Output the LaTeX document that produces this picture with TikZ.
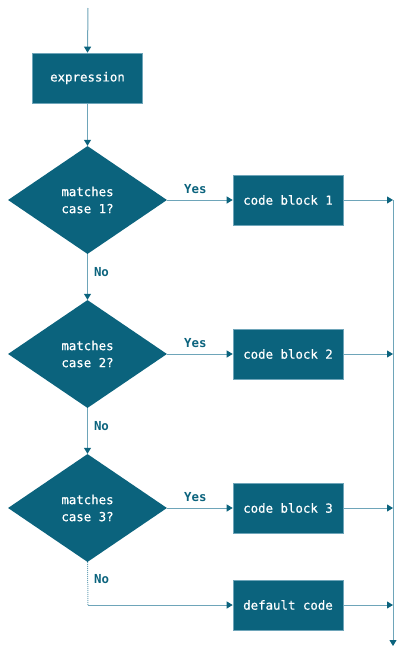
\documentclass[tikz,border=0pt]{standalone}
\usepackage{fontspec}
\setmonofont{DejaVu Sans Mono}
\newfontfamily\boxmono[FakeBold=0.5]{DejaVu Sans Mono}
\usetikzlibrary{shapes.geometric,arrows.meta}
\definecolor{tealdark}{RGB}{11,99,125}
\definecolor{teallight}{RGB}{110,165,185}
\tikzset{
  x=1pt,y=-1pt,
  boxnode/.style={rectangle,fill=tealdark,draw=teallight,line width=0.6pt,minimum width=110pt,minimum height=50pt,inner sep=0pt,text=white,font=\boxmono\fontsize{12.4}{14}\selectfont},
  decnode/.style={diamond,fill=tealdark,draw=none,minimum width=159pt,minimum height=108pt,inner sep=0pt,aspect=1.47,text=white,align=center,font=\boxmono\fontsize{12.4}{17}\selectfont},
  conn/.style={draw=teallight,line width=1pt,-{Triangle[length=6pt,width=7pt,color=tealdark]}},
  lbl/.style={text=tealdark,font=\ttfamily\bfseries\fontsize{12.4}{14}\selectfont,inner sep=0pt}
}
\begin{document}
\begin{tikzpicture}
\useasboundingbox (0,0) rectangle (400,653);
\coordinate (start) at (88,8);
\node[boxnode] (expr) at (87.5,78) {expression};
\node[decnode] (d1) at (87.5,200) {matches\\case 1?};
\node[decnode] (d2) at (87.5,354) {matches\\case 2?};
\node[decnode] (d3) at (87.5,508) {matches\\case 3?};
\node[boxnode] (c1) at (288,200) {code block 1};
\node[boxnode] (c2) at (288,354) {code block 2};
\node[boxnode] (c3) at (288,508) {code block 3};
\node[boxnode] (def) at (288,605) {default code};
\coordinate (bend) at (88,605);
\coordinate (r1) at (393,200);
\coordinate (r2) at (393,354);
\coordinate (r3) at (393,508);
\coordinate (r4) at (393,605);
\coordinate (rtop) at (393,200);
\coordinate (rend) at (393,646);

\draw[conn] (start) -- (expr.north);
\draw[conn] (expr.south) -- (d1.north);
\draw[conn] (d1.south) -- node[lbl,right=6pt,pos=0.4]{No} (d2.north);
\draw[conn] (d2.south) -- node[lbl,right=6pt,pos=0.4]{No} (d3.north);
\draw[draw=teallight,line width=1pt,densely dotted] (d3.south) -- node[lbl,right=6pt,pos=0.4]{No} (bend);
\draw[conn] (bend) -- (def.west);
\draw[conn] (d1.east) -- node[lbl,above=6pt,pos=0.43]{Yes} (c1.west);
\draw[conn] (d2.east) -- node[lbl,above=6pt,pos=0.43]{Yes} (c2.west);
\draw[conn] (d3.east) -- node[lbl,above=6pt,pos=0.43]{Yes} (c3.west);
\draw[conn] (c1.east) -- (r1);
\draw[conn] (c2.east) -- (r2);
\draw[conn] (c3.east) -- (r3);
\draw[conn] (def.east) -- (r4);
\draw[conn] (rtop) -- (rend);
\end{tikzpicture}
\end{document}
